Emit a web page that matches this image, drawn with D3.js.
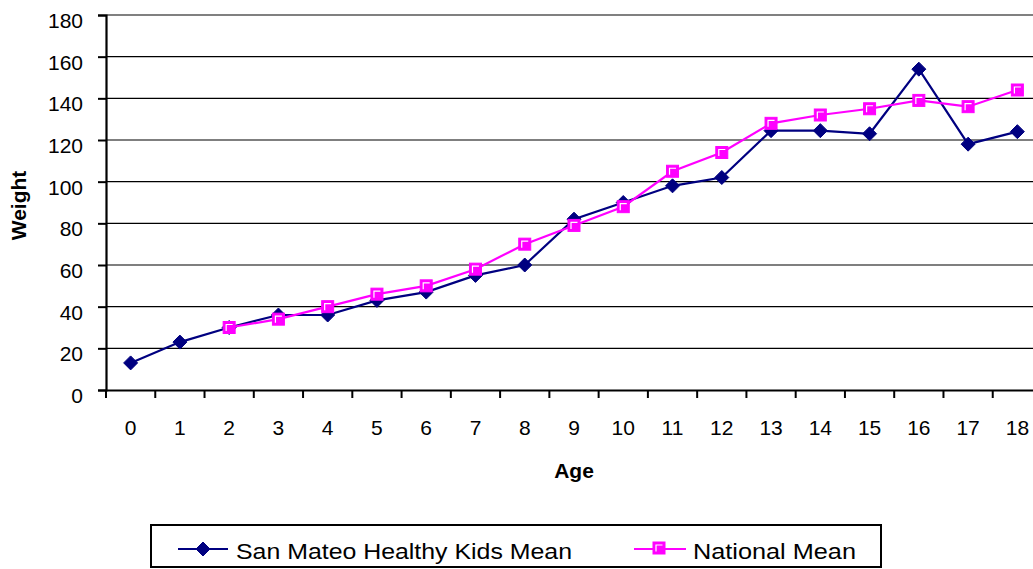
<!DOCTYPE html>
<html>
<head>
<meta charset="utf-8">
<script src="https://cdn.jsdelivr.net/npm/d3@7"></script>
<style>
  html, body { margin: 0; padding: 0; background: #fff; }
  svg { display: block; font-family: "Liberation Sans", Arial, sans-serif; }
</style>
</head>
<body>
<svg id="chart" width="1033" height="569"></svg>
<script>
// Age categories and mean weights (lbs)
const ages = [0, 1, 2, 3, 4, 5, 6, 7, 8, 9, 10, 11, 12, 13, 14, 15, 16, 17, 18];
const sanMateo = [13, 23, 30, 36, 36, 43, 47, 55, 60, 82, 90, 98, 102, 124.5, 124.5, 123, 154, 118, 124];
const national = [null, null, 30, 34, 40, 46, 50, 58, 70, 79, 88, 105, 114, 128, 132, 135, 139, 136, 144];
const weightTicks = [0, 20, 40, 60, 80, 100, 120, 140, 160, 180];

const seriesNames = ["San Mateo Healthy Kids Mean", "National Mean"];
const navy = "#000080";
const magenta = "#FF00FF";

const svg = d3.select("#chart");

const x = d3.scaleBand().domain(ages).range([106, 1042]).paddingInner(0).paddingOuter(0);
const y = d3.scaleLinear().domain([0, 180]).range([390, 15]);
const cx = a => x(a) + x.bandwidth() / 2;

// horizontal gridlines
svg.append("g")
  .selectAll("line")
  .data(weightTicks.filter(t => t > 0 && t < 180))
  .join("line")
  .attr("x1", x.range()[0]).attr("x2", x.range()[1])
  .attr("y1", d => y(d)).attr("y2", d => y(d))
  .attr("stroke", "#000").attr("stroke-width", 1.2);

// plot area top border
svg.append("line")
  .attr("x1", x.range()[0]).attr("x2", x.range()[1])
  .attr("y1", y(180)).attr("y2", y(180))
  .attr("stroke", "#808080").attr("stroke-width", 2);

// y axis
const yAxis = svg.append("g")
  .attr("transform", `translate(${x.range()[0]},0)`)
  .call(d3.axisLeft(y).tickValues(weightTicks).tickSize(8).tickPadding(15));
yAxis.select(".domain").attr("stroke", "#000").attr("stroke-width", 2.2);
yAxis.selectAll(".tick line").attr("stroke", "#000").attr("stroke-width", 2);
yAxis.selectAll(".tick text")
  .attr("font-size", 21).attr("fill", "#000")
  .attr("font-family", "Liberation Sans, Arial, sans-serif")
  .attr("dy", "0.6em");

// x axis: labels centered in each category, ticks on category boundaries
const xAxis = svg.append("g")
  .attr("transform", `translate(0,${y(0)})`)
  .call(d3.axisBottom(x).tickSize(0).tickPadding(30));
xAxis.select(".domain").attr("stroke", "#000").attr("stroke-width", 2.2);
xAxis.selectAll(".tick text")
  .attr("font-size", 21).attr("fill", "#000")
  .attr("font-family", "Liberation Sans, Arial, sans-serif");

const boundaries = ages.map(a => x(a)).concat([x.range()[1]]);
svg.append("g")
  .selectAll("line")
  .data(boundaries)
  .join("line")
  .attr("x1", d => d).attr("x2", d => d)
  .attr("y1", y(0)).attr("y2", y(0) + 8)
  .attr("stroke", "#000").attr("stroke-width", 2);

// axis titles
svg.append("text")
  .attr("x", (x.range()[0] + x.range()[1]) / 2)
  .attr("y", 478)
  .attr("text-anchor", "middle")
  .attr("font-size", 21).attr("font-weight", "bold")
  .text("Age");

svg.append("text")
  .attr("transform", `translate(26,${(y(0) + y(180)) / 2 + 3}) rotate(-90)`)
  .attr("text-anchor", "middle")
  .attr("font-size", 21).attr("font-weight", "bold")
  .text("Weight");

// marker helpers
function diamond(g, px, py) {
  const r = 7;
  g.append("path")
    .attr("d", `M${px},${py - r}L${px + r},${py}L${px},${py + r}L${px - r},${py}Z`)
    .attr("fill", navy).attr("stroke", navy).attr("stroke-width", 1);
}
function square(g, px, py) {
  const h = 6;
  g.append("rect")
    .attr("x", px - h).attr("y", py - h)
    .attr("width", 2 * h).attr("height", 2 * h)
    .attr("fill", magenta).attr("stroke", magenta).attr("stroke-width", 1);
  g.append("path")
    .attr("d", `M${px - 3},${py + 3.5}L${px - 3},${py - 3}L${px + 3.5},${py - 3}`)
    .attr("fill", "none").attr("stroke", "#fff").attr("stroke-width", 1.2);
}

const line = d3.line()
  .defined(d => d.v != null)
  .x(d => cx(d.a))
  .y(d => y(d.v));

const smData = ages.map((a, i) => ({ a, v: sanMateo[i] }));
const natData = ages.map((a, i) => ({ a, v: national[i] }));

// San Mateo series
svg.append("path").datum(smData)
  .attr("d", line).attr("fill", "none")
  .attr("stroke", navy).attr("stroke-width", 2.2);
const smMarks = svg.append("g");
smData.forEach(d => diamond(smMarks, cx(d.a), y(d.v)));

// National series
svg.append("path").datum(natData)
  .attr("d", line).attr("fill", "none")
  .attr("stroke", magenta).attr("stroke-width", 2.2);
const natMarks = svg.append("g");
natData.filter(d => d.v != null).forEach(d => square(natMarks, cx(d.a), y(d.v)));

// legend
const lg = svg.append("g");
lg.append("rect")
  .attr("x", 151).attr("y", 525).attr("width", 730).attr("height", 42)
  .attr("fill", "#fff").attr("stroke", "#000").attr("stroke-width", 2);

lg.append("line").attr("x1", 178).attr("x2", 228).attr("y1", 549).attr("y2", 549)
  .attr("stroke", navy).attr("stroke-width", 2.2);
diamond(lg, 203, 549);
lg.append("text").attr("x", 236).attr("y", 559)
  .attr("font-size", 22)
  .attr("textLength", 336).attr("lengthAdjust", "spacingAndGlyphs")
  .text(seriesNames[0]);

lg.append("line").attr("x1", 634).attr("x2", 686).attr("y1", 549).attr("y2", 549)
  .attr("stroke", magenta).attr("stroke-width", 2.2);
square(lg, 659, 548);
lg.append("text").attr("x", 693).attr("y", 559)
  .attr("font-size", 22)
  .attr("textLength", 163).attr("lengthAdjust", "spacingAndGlyphs")
  .text(seriesNames[1]);
</script>
</body>
</html>
